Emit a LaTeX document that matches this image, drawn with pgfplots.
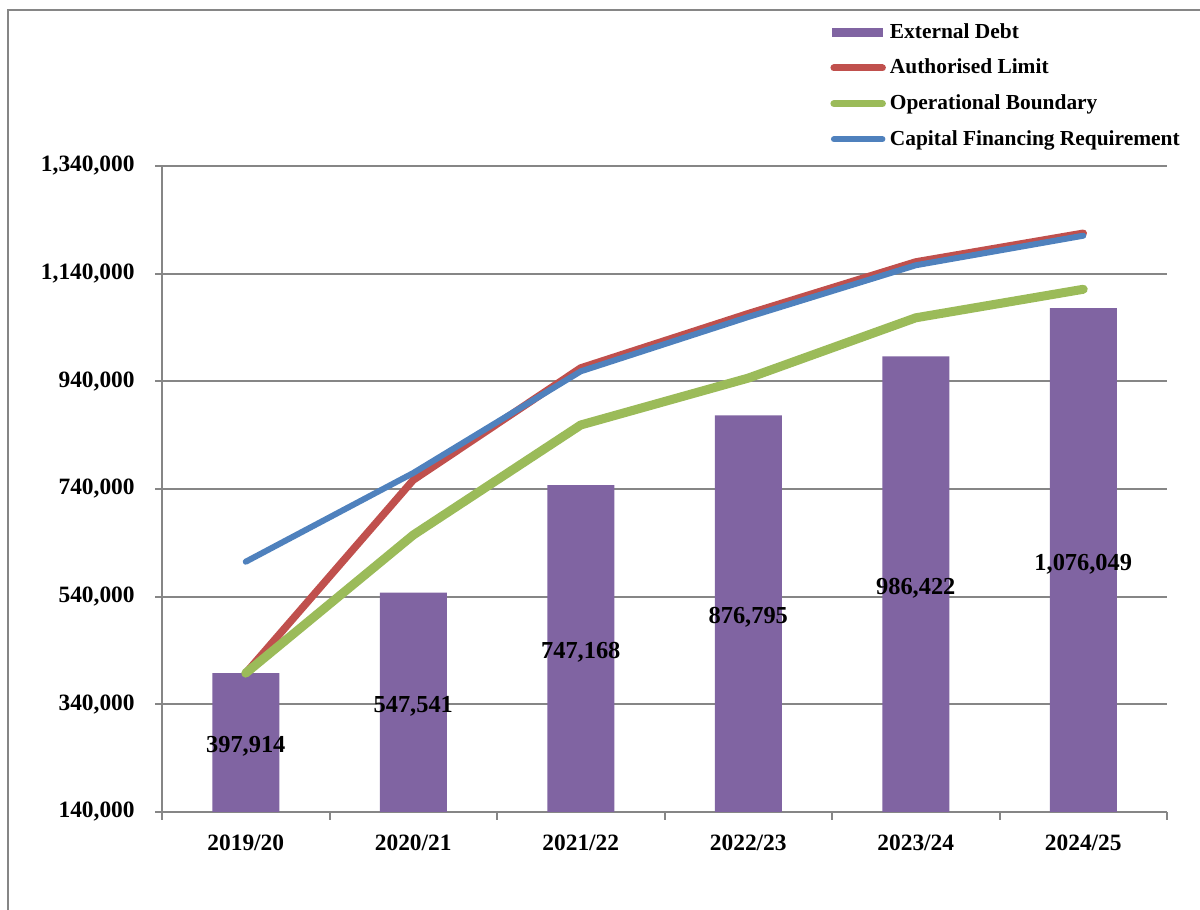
\documentclass[border=0pt]{standalone}
\usepackage{pgfplots}
\pgfplotsset{compat=1.18}
\usepackage{fontspec}
\setmainfont{Liberation Serif}
\definecolor{edcol}{HTML}{8064A2}
\definecolor{alcol}{HTML}{C0504D}
\definecolor{obcol}{HTML}{9BBB59}
\definecolor{cfrcol}{HTML}{4F81BD}
\definecolor{gridcol}{HTML}{868686}
\begin{document}
\begin{tikzpicture}
\useasboundingbox (0,0) rectangle (600pt,455pt);
\draw[gridcol, line width=1pt] (4pt,-2pt) -- (4pt,450pt) -- (602pt,450pt);
\begin{axis}[
  at={(81pt,49pt)}, anchor=south west,
  scale only axis, width=502.5pt, height=323pt,
  xmin=-0.5, xmax=5.5, ymin=140000, ymax=1340000,
  axis lines*=left,
  axis line style={gridcol, line width=1pt},
  xtick={0,...,5},
  xticklabels={2019/20,2020/21,2021/22,2022/23,2023/24,2024/25},
  minor xtick={-0.5,0.5,1.5,2.5,3.5,4.5,5.5},
  major x tick style={draw=none},
  minor x tick style={gridcol, line width=1pt},
  minor tick length=4pt,
  ytick={140000,340000,540000,740000,940000,1140000,1340000},
  y tick style={gridcol, line width=1pt},
  major tick length=3.5pt,
  tick align=outside,
  ymajorgrids, grid style={gridcol, line width=1pt},
  scaled y ticks=false,
  /pgf/number format/.cd, fixed, 1000 sep={,}, assume math mode=true,
  /pgfplots/.cd,
  tick label style={font=\fontsize{11.7}{13}\selectfont\bfseries},
  yticklabel style={inner sep=0pt, xshift=-10pt},
  xticklabel style={inner sep=0pt, yshift=-8pt},
  clip=false,
  legend style={at={(0.6647,1.2229)}, anchor=north west, draw=none, fill=none,
    inner sep=0pt, row sep=7.8pt, column sep=2pt,
    font=\fontsize{10.7}{12}\selectfont\bfseries,
    nodes={inner sep=0pt, text height=8pt, text depth=2pt}},
  legend cell align=left,
]
\addplot[ybar, bar width=33.5pt, bar shift=0pt, fill=edcol, draw=none,
  legend image code/.code={\fill[edcol] (1pt,-2.25pt) rectangle (26.5pt,2.25pt);}]
  coordinates {(0,397914) (1,547541) (2,747168) (3,876795) (4,986422) (5,1076049)};
\addlegendentry{External Debt}
\addplot[alcol, line width=3.75pt, line cap=round, line join=round,
  legend image code/.code={\draw[alcol, line width=3.5pt, line cap=round] (1.75pt,0pt) -- (26pt,0pt);}]
  coordinates {(0,397914) (1,756700) (2,964800) (3,1065600) (4,1161700) (5,1215000)};
\addlegendentry{Authorised Limit}
\addplot[obcol, line width=4.5pt, line cap=round, line join=round,
  legend image code/.code={\draw[obcol, line width=3.5pt, line cap=round] (1.75pt,0pt) -- (26pt,0pt);}]
  coordinates {(0,397914) (1,654500) (2,858900) (3,946000) (4,1058000) (5,1111000)};
\addlegendentry{Operational Boundary}
\addplot[cfrcol, line width=3pt, line cap=round, line join=round,
  legend image code/.code={\draw[cfrcol, line width=3pt, line cap=round] (1.75pt,0pt) -- (26pt,0pt);}]
  coordinates {(0,604900) (1,769700) (2,958600) (3,1059500) (4,1155600) (5,1210500)};
\addlegendentry{Capital Financing Requirement}
\addplot[only marks, mark=none, forget plot, nodes near coords, point meta=explicit symbolic,
  nodes near coords style={anchor=center, inner sep=0pt, yshift=-2pt, font=\fontsize{12.2}{14}\selectfont\bfseries}]
  coordinates {(0,268957) [397,914] (1,343770) [547,541] (2,443584) [747,168]
               (3,508397) [876,795] (4,563211) [986,422] (5,608024) [1,076,049]};
\end{axis}
\end{tikzpicture}
\end{document}
